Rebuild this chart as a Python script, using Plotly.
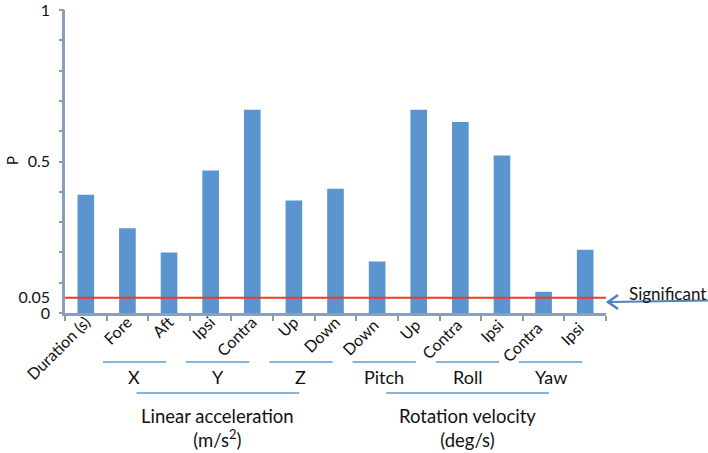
import plotly.graph_objects as go

categories = ["Duration (s)", "Fore", "Aft", "Ipsi", "Contra", "Up", "Down",
              "Down ", "Up ", "Contra ", "Ipsi ", "Contra  ", "Ipsi  "]
p_values = [0.39, 0.28, 0.20, 0.47, 0.671, 0.371, 0.41,
            0.17, 0.671, 0.63, 0.52, 0.07, 0.209]
significance = 0.05
y_tick_vals = [0, 0.05, 0.5, 1]
y_tick_text = ["0", "0.05", "0.5", "1"]
y_mark_vals = [i / 10 for i in range(11)]

# sub-groups: (label, first category index, last category index)
sub_groups = [("X", 1, 2), ("Y", 3, 4), ("Z", 5, 6),
              ("Pitch", 7, 8), ("Roll", 9, 10), ("Yaw", 11, 12)]
main_groups = [("Linear acceleration<br>(m/s<sup>2</sup>)", 1, 6),
               ("Rotation velocity<br>(deg/s)", 7, 12)]

BAR = "#5B95CF"
AXIS = "#8A9FBD"
LINEC = "#5B9BD5"
FONT = "Lato"

W, H = 708, 453
L, R, T, B = 65, 102, 10, 140
pw, ph = W - L - R, H - T - B
n = len(categories)

def px2paper_x(px):
    return (px - L) / pw

def py2paper_y(py):
    return (H - B - py) / ph

def dat2paper(d):
    return (d + 0.5) / n

fig = go.Figure(go.Bar(x=categories, y=p_values, marker_color=BAR,
                       marker_line_width=0, width=0.4))
# invisible trace to carry the tick-mark axis
fig.add_trace(go.Scatter(x=[categories[0]], y=[0], yaxis="y2", mode="markers",
                         marker=dict(opacity=0), hoverinfo="skip"))

shapes = []
annotations = []
for lab, a, b in sub_groups:
    x0 = dat2paper(a - 0.59)
    x1 = dat2paper(b - 0.07)
    shapes.append(dict(type="line", xref="paper", yref="paper", x0=x0, x1=x1,
                       y0=py2paper_y(362), y1=py2paper_y(362),
                       line=dict(color=LINEC, width=1.5)))
    annotations.append(dict(text=lab, xref="paper", yref="paper",
                            x=(x0 + x1) / 2, y=py2paper_y(377),
                            showarrow=False, font=dict(size=18, color="#111"),
                            xanchor="center", yanchor="middle"))
for lab, a, b in main_groups:
    x0 = dat2paper(a + 0.22)
    x1 = dat2paper(b - 0.87)
    shapes.append(dict(type="line", xref="paper", yref="paper", x0=x0, x1=x1,
                       y0=py2paper_y(393), y1=py2paper_y(393),
                       line=dict(color=LINEC, width=1.5)))
    annotations.append(dict(text=lab, xref="paper", yref="paper",
                            x=(x0 + x1) / 2, y=py2paper_y(428),
                            showarrow=False, font=dict(size=18.5, color="#111"),
                            xanchor="center", yanchor="middle"))

# significance line
shapes.append(dict(type="line", xref="paper", yref="y", x0=0, x1=1,
                   y0=significance, y1=significance,
                   line=dict(color="#F03A24", width=2)))

# arrow to significance line
ay = py2paper_y(302)
shapes.append(dict(type="line", xref="paper", yref="paper",
                   x0=px2paper_x(609), x1=px2paper_x(708), y0=ay, y1=py2paper_y(300.5),
                   line=dict(color="#4F81BD", width=2)))
shapes.append(dict(type="path", xref="paper", yref="paper",
                   path=f"M {px2paper_x(618)} {py2paper_y(295)} L {px2paper_x(608)} {ay} L {px2paper_x(618)} {py2paper_y(309)}",
                   line=dict(color="#4F81BD", width=2.5)))
annotations.append(dict(text="Significant", xref="paper", yref="paper",
                        x=px2paper_x(667), y=py2paper_y(293), showarrow=False,
                        font=dict(size=17, color="#111"),
                        xanchor="center", yanchor="middle"))
annotations.append(dict(text="P", xref="paper", yref="paper",
                        x=px2paper_x(12), y=py2paper_y(161), showarrow=False,
                        textangle=-90, font=dict(size=15, color="#111"),
                        xanchor="center", yanchor="middle"))

fig.update_layout(
    width=W, height=H,
    margin=dict(l=L, r=R, t=T, b=B, autoexpand=False),
    paper_bgcolor="white", plot_bgcolor="white",
    font=dict(family=FONT, color="#111"),
    showlegend=False,
    shapes=shapes, annotations=annotations,
    yaxis2=dict(overlaying="y", side="left", range=[0, 1], tickmode="array",
                tickvals=y_mark_vals, showticklabels=False, ticks="outside",
                ticklen=5, tickcolor="#999", tickwidth=2, showline=False,
                showgrid=False, zeroline=False),
)
fig.update_xaxes(type="category", range=[-0.5, n - 0.5], tickangle=-45,
                 tickson="boundaries", ticks="outside", ticklen=5,
                 tickcolor="#999", tickwidth=2, ticklabelstandoff=-9,
                 showline=True, linecolor=AXIS, linewidth=2.5,
                 showgrid=False, tickfont=dict(size=16, color="#111"))
fig.layout.yaxis.update(range=[0, 1], tickmode="array", tickvals=y_tick_vals,
                        ticktext=y_tick_text, ticks="outside", ticklen=9,
                        tickcolor="rgba(0,0,0,0)", ticklabeloverflow="allow",
                        showline=True, linecolor=AXIS, linewidth=2.5, showgrid=False,
                        zeroline=False, tickfont=dict(size=16, color="#111"))

fig.write_html("out.html", config={"displayModeBar": False},
               post_script="document.body.style.margin='0';document.body.style.overflow='hidden';")
